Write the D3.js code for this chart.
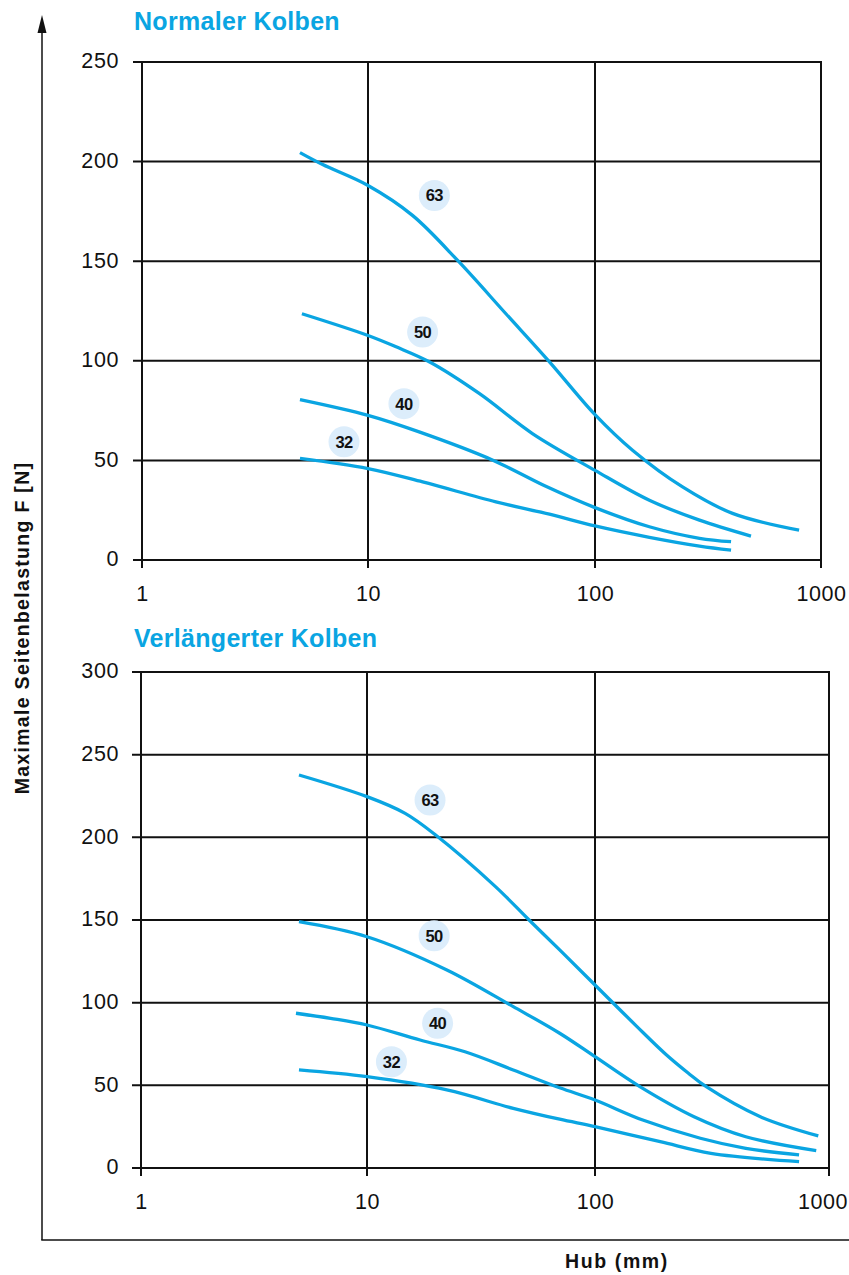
<!DOCTYPE html>
<html>
<head>
<meta charset="utf-8">
<script src="https://cdn.jsdelivr.net/npm/d3@7"></script>
<style>
  html, body { margin: 0; padding: 0; background: #fff; }
  svg { display: block; }
  text { font-family: "Liberation Sans", Arial, Helvetica, sans-serif; }
</style>
</head>
<body>
<svg id="chart" width="849" height="1275"></svg>
<script>
// ---------- data ----------
const xTickValues = [1, 10, 100, 1000];
const xTickLabels = ["1", "10", "100", "1000"];
const yTicksTop = [0, 50, 100, 150, 200, 250];
const yTicksBottom = [0, 50, 100, 150, 200, 250, 300];

const titleTop = "Normaler Kolben";
const titleBottom = "Verlängerter Kolben";
const yAxisTitle = "Maximale Seitenbelastung F  [N]";
const xAxisTitle = "Hub  (mm)";

// Normaler Kolben
const top63Hub   = [5, 6.3, 10, 15.7, 25, 40.6, 63, 100, 147, 244, 406, 800];
const top63Force = [204.5, 198.5, 188, 173, 150, 123.5, 99.5, 73, 55, 36.7, 23.4, 15];
const top50Hub   = [5.1, 10, 13.3, 18.7, 31, 53, 100, 174, 290, 490];
const top50Force = [123.6, 112.7, 107, 99.4, 83.5, 63.5, 45, 30, 20, 12];
const top40Hub   = [5, 10, 16.8, 35.5, 60.7, 100, 174, 290, 400];
const top40Force = [80.5, 72.6, 64.3, 50.1, 37, 26.3, 16.7, 10.9, 9.2];
const top32Hub   = [5, 10, 17.4, 36.6, 63, 100, 174, 290, 400];
const top32Force = [51, 45.9, 39.2, 29.2, 23, 17.1, 11.4, 7, 5];

// Verlängerter Kolben
const bot63Hub   = [5, 10, 14.7, 20, 36.6, 51.4, 70, 100, 150, 200, 250, 300, 509, 900];
const bot63Force = [237.7, 224.6, 214.5, 201.4, 170.2, 150, 131.9, 110.7, 86, 69, 57.5, 49, 31, 19.4];
const bot50Hub   = [5, 10, 22.4, 43.8, 70, 100, 155.5, 265, 441, 882];
const bot50Force = [149, 139.9, 119.8, 97.6, 81.5, 67.3, 49.2, 31, 18.9, 10.5];
const bot40Hub   = [4.85, 6.9, 10, 17.1, 26.9, 43.8, 70, 100, 160, 282, 441, 745];
const bot40Force = [93.6, 90.5, 86.5, 77.4, 70.3, 59.3, 48.5, 41.1, 29, 18, 11.9, 7.9];
const bot32Hub   = [5, 10, 22.4, 43.8, 70, 100, 190, 313, 745];
const bot32Force = [59.3, 55.2, 47.2, 36.1, 29.5, 25, 15.9, 8.9, 3.8];

// curve label badges (diameter), positioned in data units
const labelNames = ["63", "50", "40", "32"];
const labelTopHub = [19.6, 17.4, 14.4, 7.83];
const labelTopForce = [183, 114.4, 78.5, 59.3];
const labelBotHub = [18.9, 19.7, 20.4, 12.8];
const labelBotForce = [222.6, 140.5, 87.6, 64.3];

// ---------- layout ----------
const COLOR = "#0aa5e2";
const BADGE = "#dcedfb";
const svg = d3.select("#chart");

const panels = [
  {
    title: titleTop, titleY: 30,
    xRange: [142, 368, 595, 821], yRange: [560, 62], yMax: 250, yTicks: yTicksTop,
    series: [[top63Hub, top63Force], [top50Hub, top50Force], [top40Hub, top40Force], [top32Hub, top32Force]],
    labels: [labelTopHub, labelTopForce]
  },
  {
    title: titleBottom, titleY: 647,
    xRange: [141, 367, 595, 829], yRange: [1168, 672], yMax: 300, yTicks: yTicksBottom,
    series: [[bot63Hub, bot63Force], [bot50Hub, bot50Force], [bot40Hub, bot40Force], [bot32Hub, bot32Force]],
    labels: [labelBotHub, labelBotForce]
  }
];

// outer axis frame with arrow
svg.append("line").attr("x1", 42).attr("x2", 42).attr("y1", 28).attr("y2", 1240)
  .attr("stroke", "#111").attr("stroke-width", 1.5);
svg.append("line").attr("x1", 41.25).attr("x2", 849).attr("y1", 1240).attr("y2", 1240)
  .attr("stroke", "#111").attr("stroke-width", 1.5);
svg.append("path").attr("d", "M42,15 L37.5,33 L46.5,33 Z").attr("fill", "#111");

panels.forEach(p => {
  const x = d3.scaleLog().domain(xTickValues).range(p.xRange);
  const y = d3.scaleLinear().domain([0, p.yMax]).range(p.yRange);
  const g = svg.append("g");
  const x0 = x(1), x1 = x(1000), yb = y(0), yt = y(p.yMax);

  // horizontal grid + ticks
  g.selectAll("line.h").data(p.yTicks).join("line")
    .attr("x1", x0 - 9).attr("x2", x1)
    .attr("y1", d => y(d)).attr("y2", d => y(d))
    .attr("stroke", "#111").attr("stroke-width", 2);
  // vertical grid + ticks
  g.selectAll("line.v").data(xTickValues).join("line")
    .attr("x1", d => x(d)).attr("x2", d => x(d))
    .attr("y1", yt - 1).attr("y2", yb + 8)
    .attr("stroke", "#111").attr("stroke-width", 2);

  // y tick labels
  g.selectAll("text.yl").data(p.yTicks).join("text")
    .attr("x", 119).attr("y", d => y(d)).attr("dy", "0.3em")
    .attr("text-anchor", "end").attr("font-size", 21.5).attr("letter-spacing", 0.6)
    .attr("fill", "#111").text(d => d);
  // x tick labels (kept inside the page)
  g.selectAll("text.xl").data(xTickValues).join("text")
    .attr("x", d => Math.min(x(d) + 0.5, 823)).attr("y", yb + 41)
    .attr("text-anchor", "middle").attr("font-size", 21.5).attr("letter-spacing", 0.6)
    .attr("fill", "#111").text((d, i) => xTickLabels[i]);

  // title
  g.append("text").attr("x", 134).attr("y", p.titleY)
    .attr("font-size", 25).attr("font-weight", "bold").attr("letter-spacing", 0.3)
    .attr("fill", COLOR).text(p.title);

  // curves
  const line = d3.line().x(d => x(d[0])).y(d => y(d[1])).curve(d3.curveCatmullRom.alpha(0.5));
  p.series.forEach(([hub, force]) => {
    const pts = hub.map((h, i) => [h, force[i]]);
    g.append("path").attr("d", line(pts)).attr("fill", "none")
      .attr("stroke", COLOR).attr("stroke-width", 3.3).attr("stroke-linecap", "butt");
  });

  // badges
  const [lh, lf] = p.labels;
  labelNames.forEach((name, i) => {
    const cx = x(lh[i]), cy = y(lf[i]);
    g.append("circle").attr("cx", cx).attr("cy", cy).attr("r", 15.5).attr("fill", BADGE);
    g.append("text").attr("x", cx).attr("y", cy).attr("dy", "0.36em")
      .attr("text-anchor", "middle").attr("font-size", 16.5).attr("font-weight", "bold")
      .attr("letter-spacing", -0.6).attr("fill", "#111").text(name);
  });
});

// axis titles
svg.append("text")
  .attr("transform", "translate(29,628) rotate(-90)")
  .attr("text-anchor", "middle").attr("font-size", 19.5).attr("font-weight", "bold")
  .attr("letter-spacing", 1.3).attr("fill", "#111").text(yAxisTitle);
svg.append("text")
  .attr("x", 617).attr("y", 1268).attr("text-anchor", "middle")
  .attr("font-size", 19.5).attr("font-weight", "bold").attr("letter-spacing", 1.6)
  .attr("fill", "#111").text(xAxisTitle);
</script>
</body>
</html>
